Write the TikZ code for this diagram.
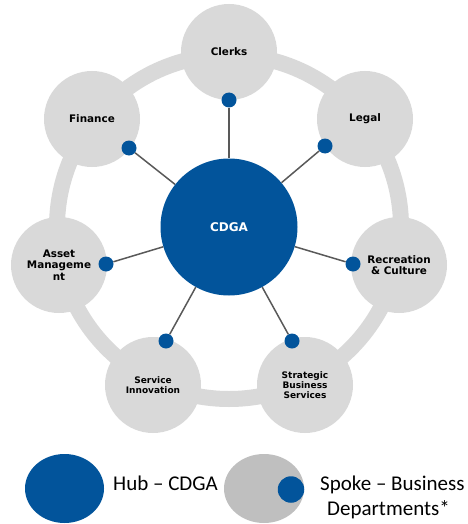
\documentclass[tikz,border=0pt]{standalone}
\usepackage{fontspec}
\usetikzlibrary{shapes.geometric}
\setmainfont{DejaVu Sans}
\newfontfamily\legendfont{Carlito}
\definecolor{hubblue}{RGB}{2,84,155}
\definecolor{spokegray}{RGB}{217,217,217}
\definecolor{leggray}{RGB}{191,191,191}
\definecolor{linegray}{RGB}{89,89,89}
\begin{document}
\begin{tikzpicture}[x=1pt,y=-1pt,
  spoke/.style={circle,fill=spokegray,minimum size=96pt,inner sep=0pt,align=center,font=\bfseries\fontsize{10.4}{11.5}\selectfont},
  spokesmall/.style={spoke,font=\bfseries\fontsize{9}{10}\selectfont},
  hubnode/.style={circle,fill=hubblue,minimum size=137pt,inner sep=0pt,text=white,font=\bfseries\fontsize{12}{14}\selectfont},
  dotnode/.style={circle,fill=hubblue,minimum size=15pt,inner sep=0pt},
  link/.style={draw=linegray,line width=1.5pt},
  legtext/.style={font=\legendfont\fontsize{21}{25}\selectfont,inner sep=0pt}]
\useasboundingbox (0,0) rectangle (467,524);
% ring
\draw[spokegray,line width=16pt] (229,227) circle[radius=172];
% spokes
\node[spoke] (clerks) at (229,52) {Clerks};
\node[spoke] (finance) at (92,119) {Finance};
\node[spoke] (legal) at (365,119) {Legal};
\node[spoke] (asset) at (59,265) {Asset\\Manageme\\nt};
\node[spoke] (rec) at (399,265) {Recreation\\\& Culture};
\node[spokesmall] (service) at (153,385) {Service\\Innovation};
\node[spokesmall] (strategic) at (305,385) {Strategic\\Business\\Services};
% hub
\node[hubnode] (hub) at (229,227) {CDGA};
% dots
\node[dotnode] (dclerks) at (229,100) {};
\node[dotnode] (dfinance) at (129,148) {};
\node[dotnode] (dlegal) at (325,146) {};
\node[dotnode] (dasset) at (106,264) {};
\node[dotnode] (drec) at (353,264) {};
\node[dotnode] (dservice) at (166,341) {};
\node[dotnode] (dstrategic) at (292,341) {};
% links
\foreach \d in {dclerks,dfinance,dlegal,dasset,drec,dservice,dstrategic}
  \draw[link] (\d) -- (hub);
% legend
\node[ellipse,fill=hubblue,minimum width=79pt,minimum height=69pt,inner sep=0pt] (leghub) at (64.5,488.5) {};
\node[ellipse,fill=leggray,minimum width=80pt,minimum height=69pt,inner sep=0pt] (legspoke) at (264,488.5) {};
\node[circle,fill=hubblue,minimum size=26.5pt,inner sep=0pt] (legdot) at (291,489.5) {};
\node[legtext,anchor=base west] (hubtext) at (113,490) {Hub – CDGA};
\node[legtext,anchor=base west] (spoketext1) at (320,490) {Spoke – Business};
\node[legtext,anchor=base west] (spoketext2) at (327,515) {Departments*};
\end{tikzpicture}
\end{document}
